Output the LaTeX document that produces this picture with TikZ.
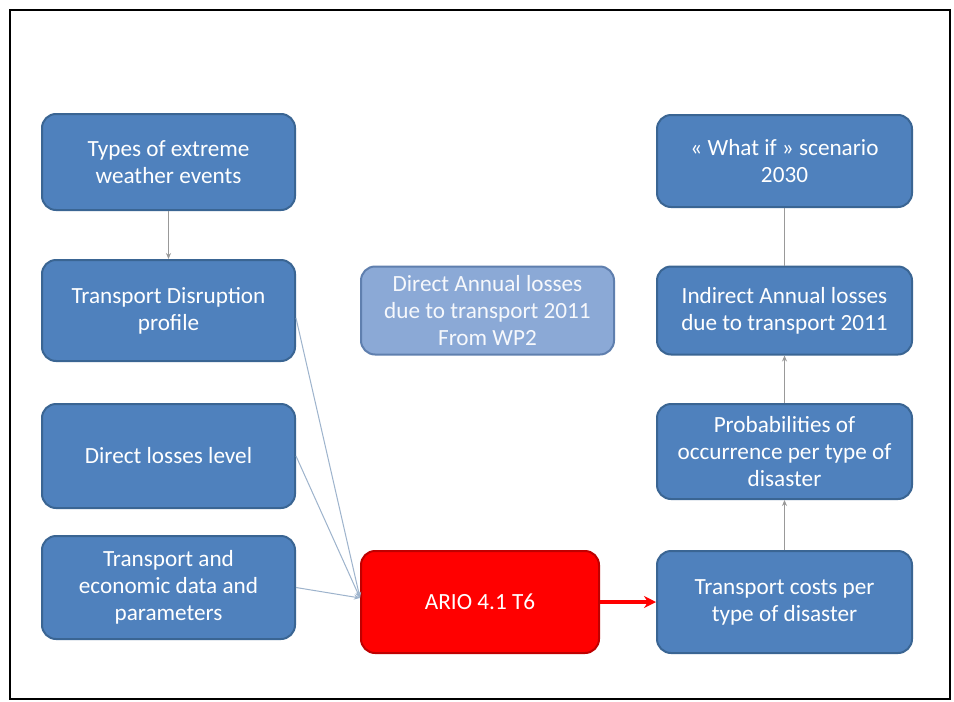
\documentclass[tikz,border=0pt]{standalone}
\usepackage{fontspec}
\setmainfont{Carlito}
\usetikzlibrary{positioning}
\usetikzlibrary{arrows.meta}

\definecolor{boxblue}{HTML}{4F81BD}
\definecolor{boxedge}{HTML}{3A6593}
\definecolor{paleblue}{HTML}{8BA9D6}
\definecolor{paleedge}{HTML}{5F7FAE}
\definecolor{linkblue}{HTML}{9DB3CC}

\tikzset{
 stage/.style={draw=boxedge,fill=boxblue,line width=1pt,rounded corners=7pt,
  minimum width=126.5pt,minimum height=48pt,align=center,text=white,
  font=\fontsize{11.6}{13.5}\selectfont,inner sep=2pt},
 source/.style={stage,draw=paleedge,fill=paleblue,text=white!92!paleblue},
 model/.style={stage,draw=red!75!black,fill=red,minimum width=119pt,minimum height=51pt},
 feed/.style={draw=linkblue,line width=0.5pt,-{Stealth[length=3pt,width=2.5pt]}},
 chain/.style={draw=gray!80,line width=0.6pt,-{Stealth[length=3pt,width=2.5pt]}},
}

\begin{document}
\begin{tikzpicture}[x=0.5pt,y=-0.5pt]
 \useasboundingbox[fill=white](0,0) rectangle (954,702);
 \draw[line width=1pt](10,10) rectangle (950,699);

 % left column
 \node[stage] (types) at (168.5,162) {Types of extreme\\weather events};
 \node[stage,minimum height=50.5pt] (disrupt) at (168.5,310.5) {Transport Disruption\\profile};
 \node[stage,minimum height=52pt] (direct) at (168.5,456) {Direct losses level};
 \node[stage,minimum height=51.5pt] (data) at (168.5,587.5) {Transport and\\economic data and\\parameters};

 % middle column
 \node[source,minimum height=44pt] (wp2) at (487.5,310.5) {Direct Annual losses\\due to transport 2011\\From WP2};
 \node[model] (ario) at (480,602) {ARIO 4.1 T6};

 % right column
 \node[stage,minimum width=127.5pt,minimum height=46pt] (whatif) at (784.5,161) {« What if » scenario\\2030};
 \node[stage,minimum width=127.5pt,minimum height=44pt] (indirect) at (784.5,310.5) {Indirect Annual losses\\due to transport 2011};
 \node[stage,minimum width=127.5pt,minimum height=47.5pt] (proba) at (784.5,451.5) {Probabilities of\\occurrence per type of\\disaster};
 \node[stage,minimum width=127.5pt,minimum height=51pt] (costs) at (784.5,602) {Transport costs per\\type of disaster};

 \draw[chain] (types) -- (disrupt);
 \draw[feed] (disrupt.east|-0,318) -- ([yshift=2pt]ario.west);
 \draw[feed] (direct.east) -- ([yshift=2pt]ario.west);
 \draw[feed] (data.east) -- ([yshift=2pt]ario.west);
 \draw[red,line width=1.6pt,-{Stealth[length=6pt,width=6pt]}] (ario) -- (costs);
 \draw[chain] (costs) -- (proba);
 \draw[chain] (proba) -- (indirect);
 \draw[chain,-] (indirect) -- (whatif);
\end{tikzpicture}
\end{document}
